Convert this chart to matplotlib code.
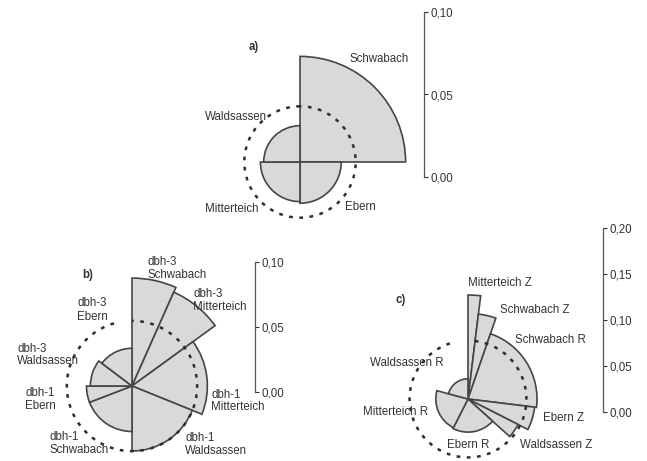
import numpy as np
import matplotlib
matplotlib.use('Agg')
import matplotlib.pyplot as plt
from matplotlib.patches import Wedge, Arc

plt.rcParams['font.family'] = ['Liberation Sans', 'DejaVu Sans']

# a) sites, four equal sectors (clockwise from north)
a_labels = ['Schwabach', 'Ebern', 'Mitterteich', 'Waldsassen']
a_widths = [90, 90, 90, 90]
a_values = [0.064, 0.025, 0.024, 0.022]
a_ticks = [0.00, 0.05, 0.10]

# b) diameter classes per site
b_labels = ['dbh-3\nSchwabach', 'dbh-3\nMitterteich', 'dbh-1\nMitterteich', 'dbh-1\nWaldsassen',
            'dbh-1\nSchwabach', 'dbh-1\nEbern', 'dbh-3\nWaldsassen', 'dbh-3\nEbern']
b_widths = [24, 30, 58, 68, 69, 21, 37, 53]
b_values = [0.083, 0.079, 0.058, 0.050, 0.035, 0.035, 0.032, 0.029]
b_ticks = [0.00, 0.05, 0.10]

# c) Z / R groups per site
c_labels = ['Mitterteich Z', 'Schwabach Z', 'Schwabach R', 'Ebern Z',
            'Waldsassen Z', 'Ebern R', 'Mitterteich R', 'Waldsassen R']
c_widths = [7, 12, 78, 20, 15, 75, 78, 75]
c_values = [0.113, 0.093, 0.075, 0.073, 0.061, 0.036, 0.035, 0.022]
c_ticks = [0.00, 0.05, 0.10, 0.15, 0.20]

# label anchors in pixels (left edge, vertical centre)
a_pos = [(350, 59), (345, 207), (205, 209), (205, 117)]
b_pos = [(147, 268), (193, 300), (211, 401), (185, 444),
         (50, 443), (25, 399), (17, 355), (77, 310)]
c_pos = [(468, 283), (500, 310), (515, 340), (543, 418),
         (520, 445), (447, 445), (363, 412), (370, 363)]

W, H = 647, 461
fig = plt.figure(figsize=(W / 100, H / 100), dpi=100)


def px(x, y):
    return x / W, 1 - y / H


def rose(box, centre, scale, widths, values, gap=0):
    # box = left, top, width, height in pixels, scale = pixels per unit
    left, top, w, h = box
    cx, cy = centre
    ax = fig.add_axes([left / W, 1 - (top + h) / H, w / W, h / H])
    ax.set_xlim((left - cx) / scale, (left + w - cx) / scale)
    ax.set_ylim((cy - top - h) / scale, (cy - top) / scale)
    ax.axis('off')
    theta = 90.0
    for width, r in zip(widths, values):
        ax.add_patch(Wedge((0, 0), r, theta - width, theta, facecolor='#d9d9d9',
                           edgecolor='#454545', lw=1.2))
        theta -= width
    # dashed circle at the mean value
    m = np.mean(values)
    ax.add_patch(Arc((0, 0), 2 * m, 2 * m, theta1=90 + gap, theta2=450,
                     ls=(0, (1.5, 2.6)), lw=1.8, color='#2e2e2e'))
    return ax


def scale_bar(x, y0, y1, ticks):
    # vertical value bar, y0 = pixel row of the first tick, y1 of the last
    ax = fig.add_axes([(x - 1) / W, 1 - y0 / H, 1 / W, (y0 - y1) / H])
    ax.set_ylim(ticks[0], ticks[-1])
    for s in ['left', 'top', 'bottom']:
        ax.spines[s].set_visible(False)
    ax.spines['right'].set_color('#555555')
    ax.spines['right'].set_linewidth(0.9)
    ax.patch.set_visible(False)
    ax.set_xticks([])
    ax.yaxis.tick_right()
    ax.set_yticks(ticks)
    ax.set_yticklabels([f'{t:.2f}'.replace('.', ',') for t in ticks])
    ax.tick_params(axis='y', direction='out', length=3, width=0.8, pad=1.5,
                   labelsize=8.3, colors='#333333')
    return ax


def labels(names, pos, step=13):
    # one text per line so stacked labels keep a fixed line pitch
    for name, (x, y) in zip(names, pos):
        lines = name.split('\n')
        for i, line in enumerate(lines):
            yy = y + (i - (len(lines) - 1) / 2) * step
            fig.text(*px(x, yy), line, ha='left', va='center', fontsize=8.3,
                     color='#333333')


rose((180, 10, 240, 220), (300, 162), 1650, a_widths, a_values)
scale_bar(424, 177, 12, a_ticks)
labels(a_labels, a_pos)
fig.text(*px(249, 47), 'a)', ha='left', va='center', fontsize=8.3, fontweight='bold', color='#333333')

rose((0, 240, 260, 221), (132, 386), 1300, b_widths, b_values, gap=16)
scale_bar(255, 392, 262, b_ticks)
labels(b_labels, b_pos)
fig.text(*px(82, 275), 'b)', ha='left', va='center', fontsize=8.3, fontweight='bold', color='#333333')

rose((330, 230, 270, 231), (468, 399), 920, c_widths, c_values, gap=18)
scale_bar(603, 412, 228, c_ticks)
labels(c_labels, c_pos)
fig.text(*px(395, 300), 'c)', ha='left', va='center', fontsize=8.3, fontweight='bold', color='#333333')

fig.savefig('out.png', dpi=100)
